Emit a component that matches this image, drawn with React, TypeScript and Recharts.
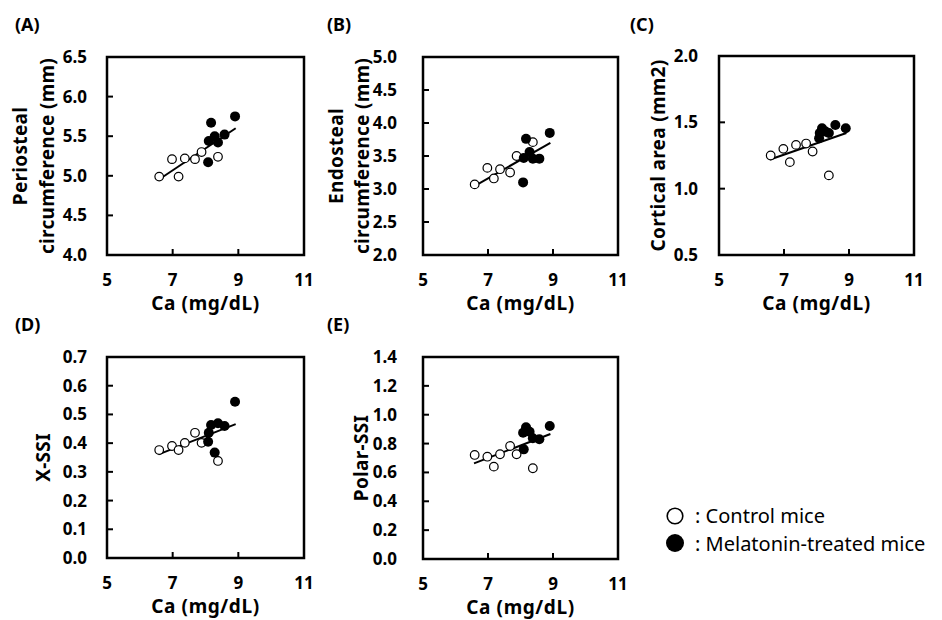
import React from 'react';
import {
  ReferenceArea, ReferenceLine, Scatter, ScatterChart, XAxis, YAxis,
} from 'recharts';

const FONT = '"Noto Sans", sans-serif';

// serum calcium per mouse (x axis, shared by all panels)
const caControl = [6.59, 6.98, 7.18, 7.37, 7.68, 7.88, 8.38];
const caMelatonin = [8.08, 8.10, 8.17, 8.28, 8.38, 8.58, 8.90];
const caTicks = [5, 7, 9, 11];
const trendCa = [6.57, 8.92];

// (A) periosteal circumference
const periControl = [4.99, 5.21, 4.99, 5.22, 5.21, 5.30, 5.24];
const periMelatonin = [5.17, 5.44, 5.67, 5.50, 5.42, 5.52, 5.75];
const periTrend = [4.95, 5.60];
const periTicks = [4.0, 4.5, 5.0, 5.5, 6.0, 6.5];

// (B) endosteal circumference
const endoControl = [3.07, 3.32, 3.16, 3.30, 3.25, 3.50, 3.71];
const endoMelatonin = [3.10, 3.47, 3.76, 3.56, 3.46, 3.46, 3.85];
const endoTrend = [3.04, 3.70];
const endoTicks = [2.0, 2.5, 3.0, 3.5, 4.0, 4.5, 5.0];

// (C) cortical area
const cortControl = [1.25, 1.30, 1.20, 1.33, 1.34, 1.28, 1.10];
const cortMelatonin = [1.38, 1.42, 1.455, 1.43, 1.42, 1.48, 1.455];
const cortTrend = [1.22, 1.42];
const cortTicks = [0.5, 1.0, 1.5, 2.0];

// (D) X-SSI
const xssiControl = [0.376, 0.390, 0.376, 0.401, 0.436, 0.401, 0.338];
const xssiMelatonin = [0.405, 0.436, 0.463, 0.367, 0.469, 0.460, 0.544];
const xssiTrend = [0.361, 0.466];
const xssiTicks = [0.0, 0.1, 0.2, 0.3, 0.4, 0.5, 0.6, 0.7];

// (E) Polar-SSI
const polarControl = [0.721, 0.709, 0.640, 0.726, 0.783, 0.726, 0.629];
const polarMelatonin = [0.875, 0.760, 0.913, 0.882, 0.837, 0.830, 0.922];
const polarTrend = [0.663, 0.866];
const polarTicks = [0.0, 0.2, 0.4, 0.6, 0.8, 1.0, 1.2, 1.4];

const openDot = (p: any) => (
  <circle cx={p.cx} cy={p.cy} r={4.3} fill="#fff" stroke="#000" strokeWidth={1.2} />
);
const filledDot = (p: any) => <circle cx={p.cx} cy={p.cy} r={5} fill="#000" />;

const yTitle = (lines: string[], xs: number[]) => (props: any) => {
  const vb = props.viewBox;
  const cy = vb.y + vb.height / 2;
  return (
    <g>
      {lines.map((t, i) => (
        <text
          key={t}
          x={0}
          y={0}
          transform={`translate(${xs[i]},${cy}) rotate(-90)`}
          textAnchor="middle"
          fontSize={19}
          fontWeight={700}
          letterSpacing={0.3}
          fill="#000"
          fontFamily={FONT}
        >
          {t}
        </text>
      ))}
    </g>
  );
};

const xTitle = (props: any) => {
  const vb = props.viewBox;
  return (
    <text
      x={vb.x + vb.width / 2}
      y={vb.y + 55}
      textAnchor="middle"
      fontSize={19}
      fontWeight={700}
      letterSpacing={0.6}
      fill="#000"
      fontFamily={FONT}
    >
      Ca (mg/dL)
    </text>
  );
};

type PanelProps = {
  plotX: number,
  plotY: number,
  plotW: number,
  plotH: number,
  ticks: number[],
  control: number[],
  melatonin: number[],
  trend: number[],
  title: string[],
  titleX: number[],
  tickGap: number,
};

const Panel: React.FC<PanelProps> = ({
  plotX, plotY, plotW, plotH, ticks, control, melatonin, trend, title, titleX, tickGap,
}) => {
  const left = plotX - 100;
  const top = plotY - 50;
  const yMin = ticks[0];
  const yMax = ticks[ticks.length - 1];
  const ctrl = caControl.map((x, i) => ({ x, y: control[i] }));
  const mel = caMelatonin.map((x, i) => ({ x, y: melatonin[i] }));
  return (
    <div style={{ position: 'absolute', left, top }}>
      <ScatterChart
        width={100 + plotW + 10}
        height={50 + plotH + 62}
        margin={{ top: 50, right: 10, bottom: 0, left: 0 }}
        style={{ fontFamily: FONT }}
      >
        <XAxis
          type="number"
          dataKey="x"
          domain={[5, 11]}
          ticks={caTicks}
          height={62}
          axisLine={false}
          tickSize={-6}
          tickMargin={25}
          tickLine={{ stroke: '#000', strokeWidth: 2 }}
          tick={{ fontSize: 17, fontWeight: 700, fill: '#000' }}
          label={xTitle}
        />
        <YAxis
          type="number"
          dataKey="y"
          domain={[yMin, yMax]}
          ticks={ticks}
          width={100}
          axisLine={false}
          tickSize={-6}
          tickMargin={tickGap + 6}
          tickLine={{ stroke: '#000', strokeWidth: 2 }}
          tick={{ fontSize: 17, fontWeight: 700, fill: '#000' }}
          tickFormatter={(v: number) => v.toFixed(1)}
          label={yTitle(title, titleX.map((v) => v - left))}
        />
        <ReferenceArea x1={5} x2={11} y1={yMin} y2={yMax} fill="none" stroke="#000" strokeWidth={2.5} />
        <Scatter data={ctrl} shape={openDot} isAnimationActive={false} />
        <Scatter data={mel} shape={filledDot} isAnimationActive={false} />
        <ReferenceLine
          segment={[{ x: trendCa[0], y: trend[0] }, { x: trendCa[1], y: trend[1] }]}
          stroke="#000"
          strokeWidth={2}
        />
      </ScatterChart>
    </div>
  );
};

const letterStyle = { fontSize: 18, fontWeight: 700, fill: '#000', fontFamily: FONT };

export default function App() {
  return (
    <div style={{
      position: 'absolute', left: 0, top: 0, width: 942, height: 620, background: '#fff',
    }}
    >
      <Panel
        plotX={107} plotY={57} plotW={197} plotH={198}
        ticks={periTicks} control={periControl} melatonin={periMelatonin} trend={periTrend}
        title={['Periosteal', 'circumference (mm)']} titleX={[27, 54]} tickGap={20}
      />
      <Panel
        plotX={423} plotY={57} plotW={195} plotH={198}
        ticks={endoTicks} control={endoControl} melatonin={endoMelatonin} trend={endoTrend}
        title={['Endosteal', 'circumference (mm)']} titleX={[343, 369]} tickGap={26}
      />
      <Panel
        plotX={719} plotY={56} plotW={195} plotH={199}
        ticks={cortTicks} control={cortControl} melatonin={cortMelatonin} trend={cortTrend}
        title={['Cortical area (mm2)']} titleX={[665]} tickGap={21}
      />
      <Panel
        plotX={107} plotY={357} plotW={197} plotH={201}
        ticks={xssiTicks} control={xssiControl} melatonin={xssiMelatonin} trend={xssiTrend}
        title={['X-SSI']} titleX={[50]} tickGap={20}
      />
      <Panel
        plotX={423} plotY={357} plotW={195} plotH={202}
        ticks={polarTicks} control={polarControl} melatonin={polarMelatonin} trend={polarTrend}
        title={['Polar-SSI']} titleX={[368]} tickGap={26}
      />
      <svg
        width={942}
        height={620}
        style={{ position: 'absolute', left: 0, top: 0, pointerEvents: 'none' }}
      >
        <text x={15} y={31} {...letterStyle}>(A)</text>
        <text x={327} y={31} {...letterStyle}>(B)</text>
        <text x={630} y={31} {...letterStyle}>(C)</text>
        <text x={15} y={331} {...letterStyle}>(D)</text>
        <text x={327} y={331} {...letterStyle}>(E)</text>
        <circle cx={675} cy={516} r={7.8} fill="#fff" stroke="#000" strokeWidth={1.6} />
        <circle cx={675} cy={543} r={9} fill="#000" />
        <text x={695} y={523} fontSize={20} fill="#000" fontFamily={FONT}>: Control mice</text>
        <text x={695} y={551} fontSize={20} fill="#000" fontFamily={FONT}>: Melatonin-treated mice</text>
      </svg>
    </div>
  );
}
